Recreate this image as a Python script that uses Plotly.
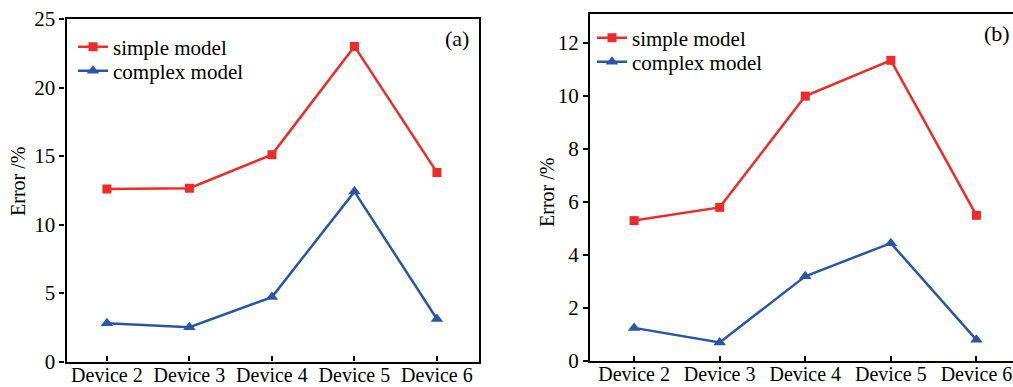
import plotly.graph_objects as go

devices = ["Device 2", "Device 3", "Device 4", "Device 5", "Device 6"]

# Panel (a)
simple_a = [12.6, 12.65, 15.1, 23.0, 13.8]
complex_a = [2.8, 2.5, 4.7, 12.4, 3.1]

# Panel (b)
simple_b = [5.3, 5.8, 10.0, 11.35, 5.5]
complex_b = [1.25, 0.7, 3.2, 4.45, 0.8]

RED = "#ee2b2b"
BLUE = "#2a56a8"
FONT = "Liberation Serif"
W, H = 1013, 387

fig = go.Figure()

def add_pair(xa, ya, simple, complex_, leg_s, leg_c):
    x = list(range(len(devices)))
    fig.add_trace(go.Scatter(
        x=x, y=simple, xaxis=xa, yaxis=ya, name="simple model", legend=leg_s,
        mode="lines+markers", line=dict(color=RED, width=2.5),
        marker=dict(symbol="square", size=9, color=RED)))
    fig.add_trace(go.Scatter(
        x=x, y=complex_, xaxis=xa, yaxis=ya, name="complex model", legend=leg_c,
        mode="lines+markers", line=dict(color=BLUE, width=2.5),
        marker=dict(symbol="triangle-up", size=11, color=BLUE)))

add_pair("x", "y", simple_a, complex_a, "legend", "legend2")
add_pair("x2", "y2", simple_b, complex_b, "legend3", "legend4")

axis_common = dict(
    showline=True, linecolor="black", linewidth=2.2, showgrid=False, zeroline=False,
    automargin=False, ticklabeloverflow="allow",
    tickfont=dict(family=FONT, size=21, color="black"),
    tickcolor="black", tickwidth=1.5, ticklen=5,
)

x_common = dict(axis_common, tickmode="array", tickvals=list(range(len(devices))),
                ticktext=devices, ticks="inside", mirror=True, ticklabelstandoff=-6,
                tickfont=dict(family=FONT, size=20, color="black"))

title_font = dict(family=FONT, size=20, color="black")


def leg(x_px, y_px):
    return dict(x=x_px / W, y=1 - y_px / H, xanchor="left", yanchor="middle",
                bgcolor="rgba(0,0,0,0)", font=dict(family=FONT, size=21, color="black"),
                itemclick=False, borderwidth=0)


def label(text, x_px, y_px, size, angle=0):
    return dict(text=text, x=x_px / W, y=1 - y_px / H, xref="paper", yref="paper",
                xanchor="center", yanchor="middle", showarrow=False, textangle=angle,
                font=dict(family=FONT, size=size, color="black"))


fig.update_layout(
    template="none",
    width=W, height=H,
    margin=dict(l=0, r=0, t=0, b=0, autoexpand=False),
    paper_bgcolor="white", plot_bgcolor="white",
    font=dict(family=FONT, color="black"),
    showlegend=True,
    xaxis=dict(x_common, domain=[66.5 / W, 479 / W], range=[-0.49, 4.51], anchor="y"),
    yaxis=dict(axis_common, domain=[1 - 361.5 / H, 1 - 19 / H], range=[0, 25],
               tickvals=[0, 5, 10, 15, 20, 25], ticks="outside", mirror=True, anchor="x"),
    xaxis2=dict(x_common, domain=[590 / W, 1.0], range=[-0.515, 4.427], anchor="y2"),
    yaxis2=dict(axis_common, domain=[1 - 361 / H, 1 - 14 / H], range=[0, 13.1],
                tickvals=[0, 2, 4, 6, 8, 10, 12], ticks="outside", mirror=False, anchor="x2"),
    legend=leg(73, 47),
    legend2=leg(73, 71),
    legend3=leg(592, 38),
    legend4=leg(592, 62),
    annotations=[
        label("(a)", 457, 39, 22),
        label("(b)", 997, 33, 22),
        label("Error /%", 18, 182, 20, -90),
        label("Error /%", 547, 193, 20, -90),
    ],
)

fig.write_html("out.html")
